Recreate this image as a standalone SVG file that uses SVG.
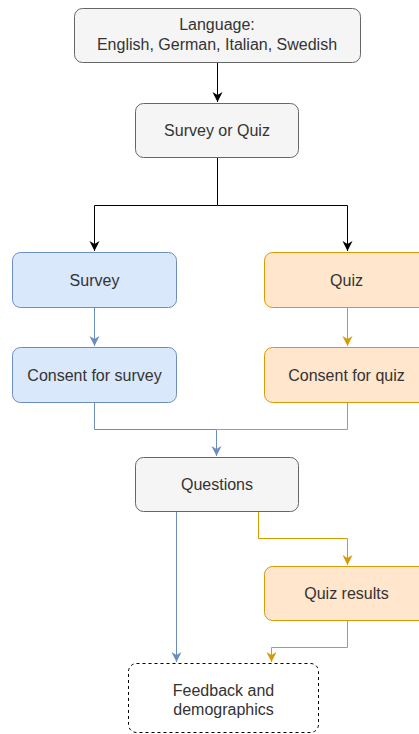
<svg xmlns="http://www.w3.org/2000/svg" width="419" height="734" viewBox="0 0 419 734">
<style>
.t{font-family:"Liberation Sans",Arial,sans-serif;font-size:16px;fill:#333;text-anchor:middle}
.g{fill:#f5f5f5;stroke:#666}
.b{fill:#dae8fc;stroke:#6c8ebf}
.o{fill:#ffe6cc;stroke:#d79b00}
.d{fill:#fff;stroke:#000;stroke-dasharray:3 3}
.c{fill:none;stroke-width:1}
</style>
<defs>
<marker id="ak" markerWidth="12" markerHeight="12" refX="10" refY="6" orient="auto" markerUnits="userSpaceOnUse"><path d="M0,1 L10,6 L0,11 L3,6 Z" fill="#000"/></marker>
<marker id="ab" markerWidth="12" markerHeight="12" refX="10" refY="6" orient="auto" markerUnits="userSpaceOnUse"><path d="M0,1 L10,6 L0,11 L3,6 Z" fill="#6c8ebf"/></marker>
<marker id="ao" markerWidth="12" markerHeight="12" refX="10" refY="6" orient="auto" markerUnits="userSpaceOnUse"><path d="M0,1 L10,6 L0,11 L3,6 Z" fill="#d79b00"/></marker>
</defs>
<g id="connectors">
<path class="c" stroke="#000" d="M217.5,62 V102" marker-end="url(#ak)"/>
<path class="c" stroke="#000" d="M217.5,157 V205.5 H94.5 V251" marker-end="url(#ak)"/>
<path class="c" stroke="#000" d="M217.5,205.5 H347.5 V251" marker-end="url(#ak)"/>
<path class="c" stroke="#6c8ebf" d="M94.5,307 V346" marker-end="url(#ab)"/>
<path class="c" stroke="#d79b00" d="M347.5,307 V346" marker-end="url(#ao)"/>
<path class="c" stroke="#6c8ebf" d="M94.5,403 V429.5 H216.5 V456" marker-end="url(#ab)"/>
<path class="c" stroke="#d79b00" d="M347.5,403 V429.5 H216.5"/>
<path class="c" stroke="#6c8ebf" d="M176.5,511 V662" marker-end="url(#ab)"/>
<path class="c" stroke="#d79b00" d="M258.5,511 V538.5 H347.5 V565" marker-end="url(#ao)"/>
<path class="c" stroke="#d79b00" d="M347.5,620 V647.5 H271.5 V662" marker-end="url(#ao)"/>
</g>
<g id="language"><rect class="g" x="74.5" y="8.5" width="286" height="54" rx="8"/><text class="t" x="217" y="30">Language:</text><text class="t" x="217" y="50">English, German, Italian, Swedish</text></g>
<g id="survey-or-quiz"><rect class="g" x="135.5" y="103.5" width="163" height="54" rx="8"/><text class="t" x="217" y="136">Survey or Quiz</text></g>
<g id="survey"><rect class="b" x="12.5" y="252.5" width="164" height="55" rx="8"/><text class="t" x="94.5" y="286">Survey</text></g>
<g id="quiz"><rect class="o" x="264.5" y="252.5" width="164" height="55" rx="8"/><text class="t" x="346.5" y="286">Quiz</text></g>
<g id="consent-survey"><rect class="b" x="12.5" y="347.5" width="164" height="55" rx="8"/><text class="t" x="94.5" y="381">Consent for survey</text></g>
<g id="consent-quiz"><rect class="o" x="264.5" y="347.5" width="164" height="55" rx="8"/><text class="t" x="346.5" y="381">Consent for quiz</text></g>
<g id="questions"><rect class="g" x="135.5" y="457.5" width="163" height="54" rx="8"/><text class="t" x="217" y="490">Questions</text></g>
<g id="quiz-results"><rect class="o" x="264.5" y="566.5" width="164" height="54" rx="8"/><text class="t" x="346.5" y="599">Quiz results</text></g>
<g id="feedback"><rect class="d" x="128.5" y="663.5" width="190" height="69" rx="8"/><text class="t" x="223.5" y="696">Feedback and</text><text class="t" x="223.5" y="715">demographics</text></g>
</svg>
